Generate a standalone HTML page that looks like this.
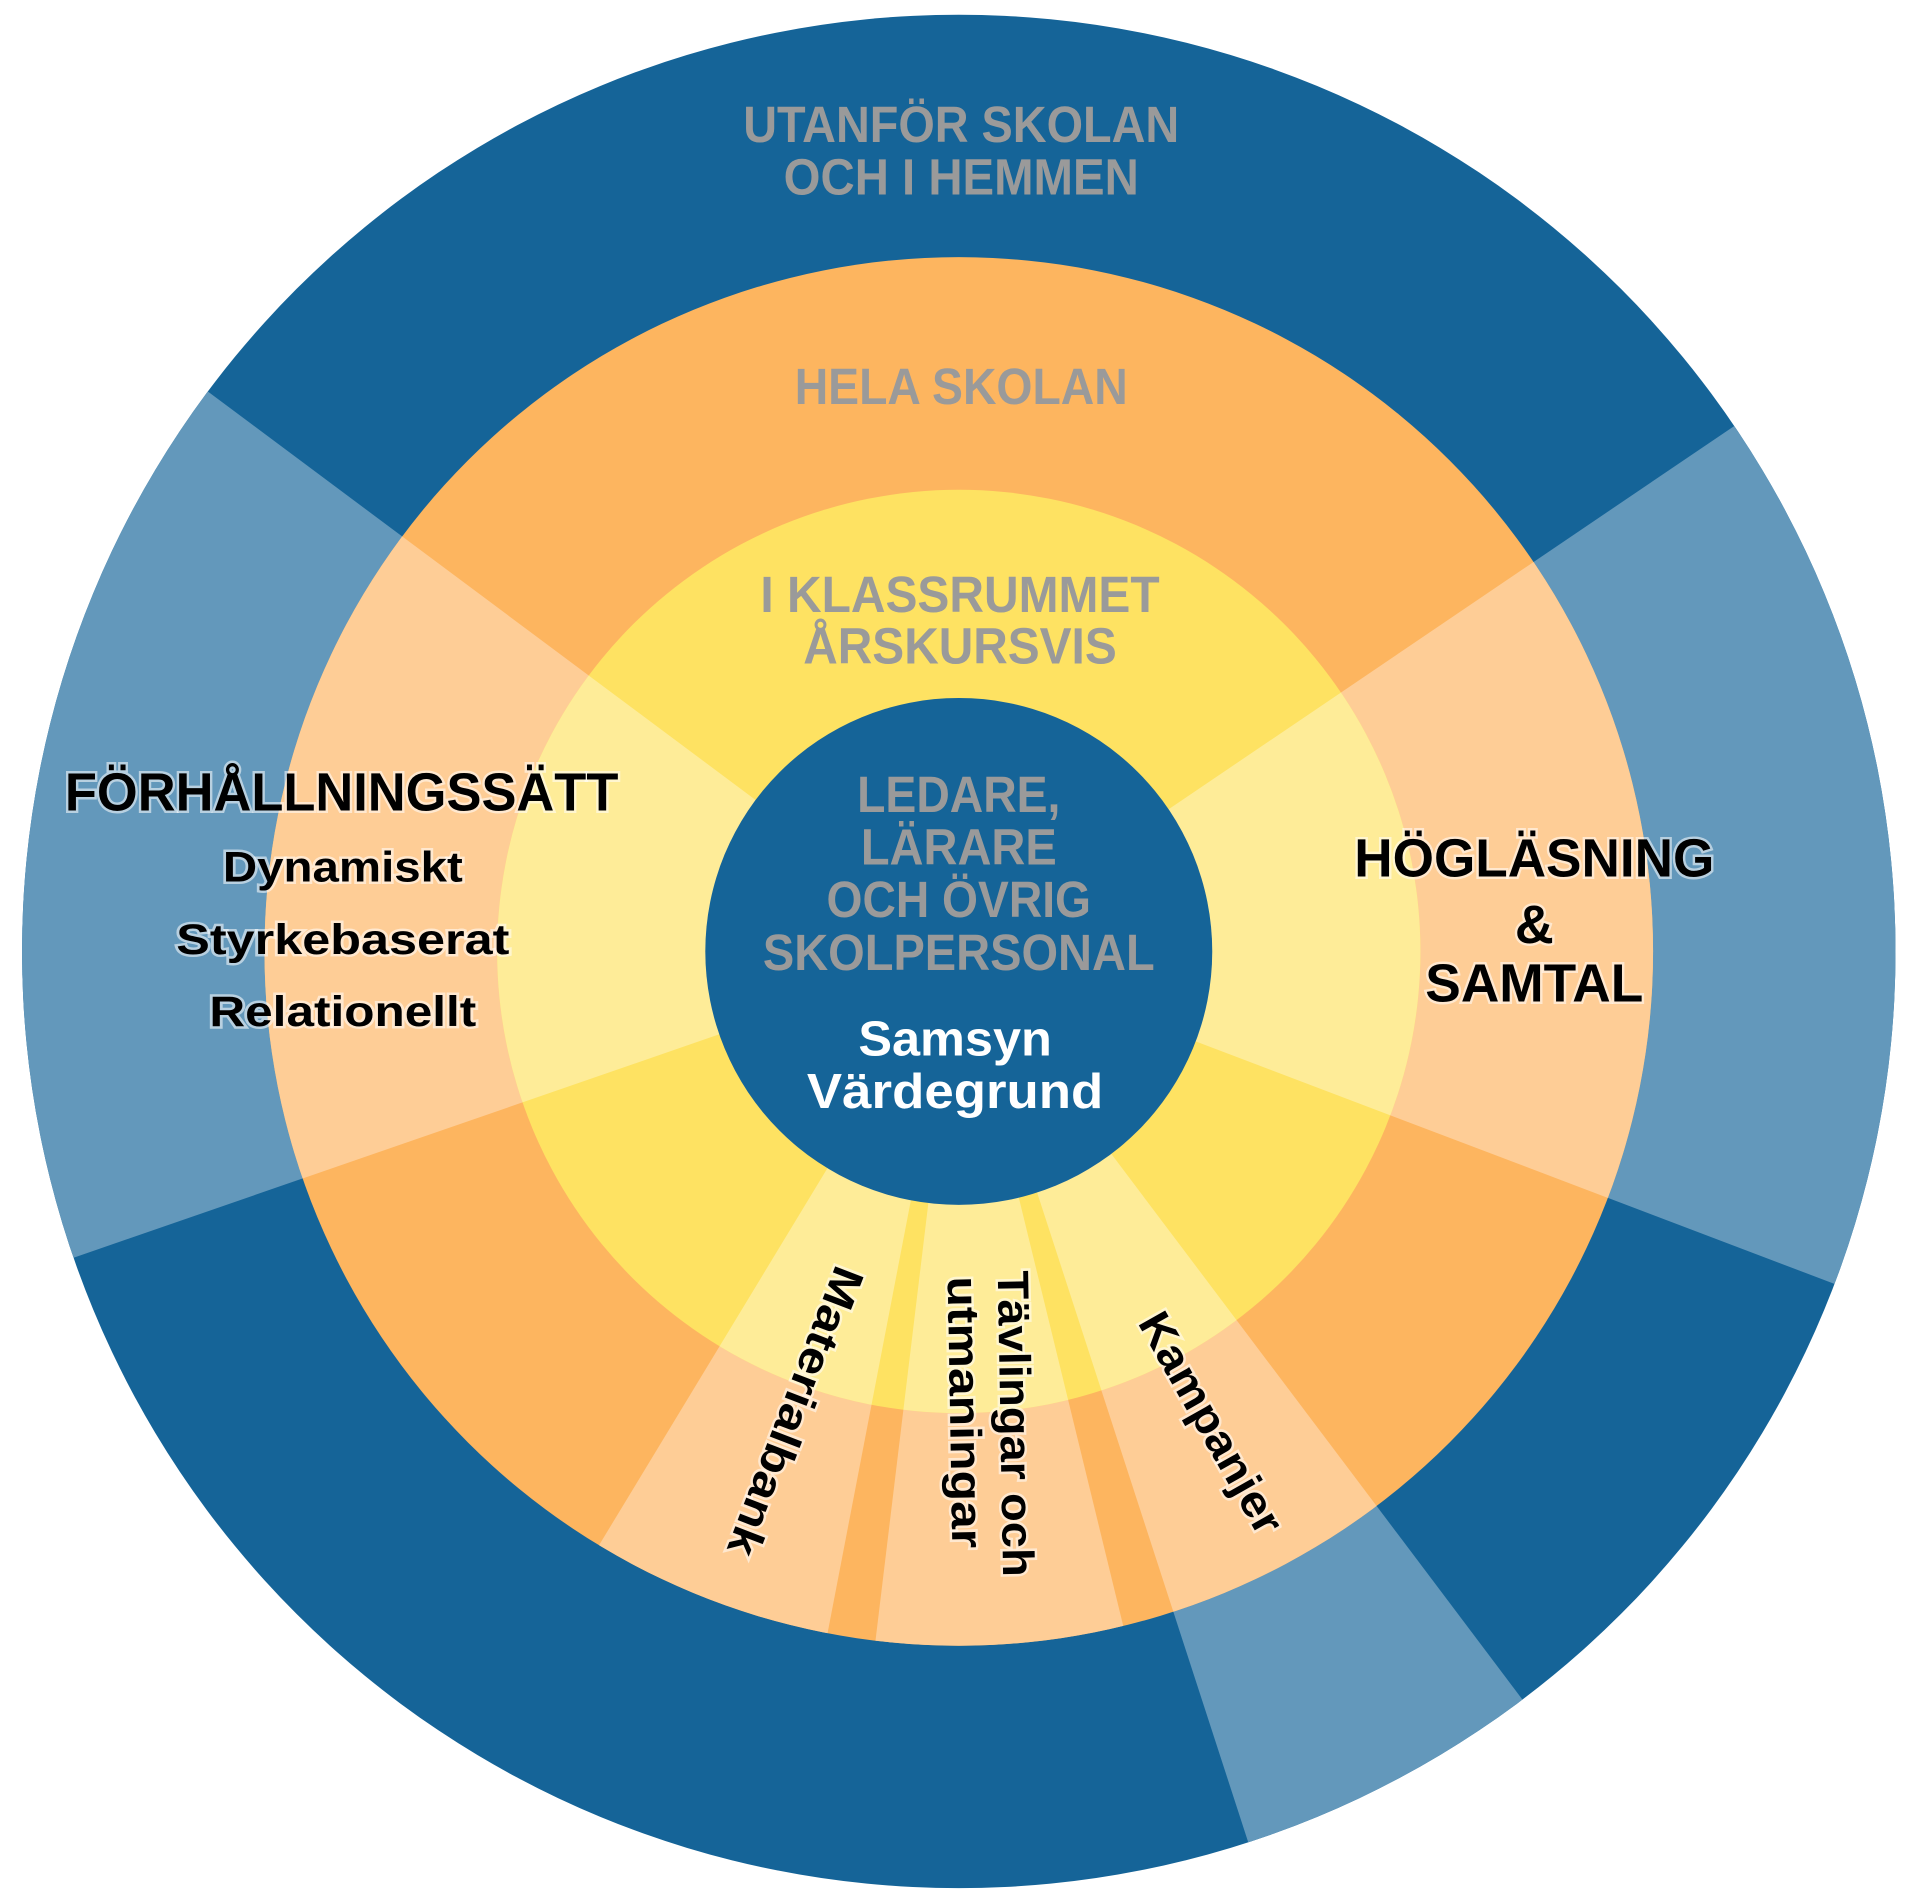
<!DOCTYPE html>
<html><head><meta charset="utf-8"><style>
html,body{margin:0;padding:0;background:#fff;width:1920px;height:1902px;overflow:hidden;}
svg{display:block;}
.g{font-family:"Liberation Sans",sans-serif;font-weight:bold;fill:#9a9a9a;text-anchor:middle;}
.b{font-family:"Liberation Sans",sans-serif;font-weight:bold;fill:#000;text-anchor:middle;stroke:#fff;stroke-opacity:.55;stroke-width:4;paint-order:stroke;}
.w{font-family:"Liberation Sans",sans-serif;font-weight:bold;fill:#fff;text-anchor:middle;}
</style></head><body>
<svg width="1920" height="1902" viewBox="0 0 1568 1553.3" preserveAspectRatio="none" xmlns="http://www.w3.org/2000/svg">
<defs>
<clipPath id="c1"><circle cx="783" cy="777" r="765"/></clipPath>
<clipPath id="c2"><circle cx="783" cy="777" r="567"/></clipPath>
<clipPath id="c3"><circle cx="783" cy="777" r="377"/></clipPath>
</defs>
<circle cx="783" cy="777" r="765" fill="#156498"/>
<g clip-path="url(#c1)" fill="#6398bb">
<polygon points="783,777 -162,1104 -19,179"/>
<polygon points="783,777 1611,216 1718,1132"/>
<polygon points="783,777 1385,1576 1092,1728"/>
</g>
<circle cx="783" cy="777" r="567" fill="#fdb55f"/>
<g clip-path="url(#c2)" fill="#fecd96">
<polygon points="783,777 -162,1104 -19,179"/>
<polygon points="783,777 1611,216 1718,1132"/>
<polygon points="783,777 1385,1576 1092,1728"/>
<polygon points="783,777 1020,1749 663,1770"/>
<polygon points="783,777 594,1759 265,1632"/>
</g>
<circle cx="783" cy="777" r="377" fill="#fee262"/>
<g clip-path="url(#c3)" fill="#feec98">
<polygon points="783,777 -162,1104 -19,179"/>
<polygon points="783,777 1611,216 1718,1132"/>
<polygon points="783,777 1385,1576 1092,1728"/>
<polygon points="783,777 1020,1749 663,1770"/>
<polygon points="783,777 594,1759 265,1632"/>
</g>
<circle cx="783" cy="777" r="207" fill="#156498"/>

<text class="g" x="785" y="116" font-size="42" textLength="356" lengthAdjust="spacingAndGlyphs">UTANFÖR SKOLAN</text>
<text class="g" x="785" y="159" font-size="42" textLength="290" lengthAdjust="spacingAndGlyphs">OCH I HEMMEN</text>
<text class="g" x="785" y="330" font-size="42" textLength="272" lengthAdjust="spacingAndGlyphs">HELA SKOLAN</text>
<text class="g" x="784" y="500" font-size="42" textLength="326" lengthAdjust="spacingAndGlyphs">I KLASSRUMMET</text>
<text class="g" x="784" y="542" font-size="42" textLength="256" lengthAdjust="spacingAndGlyphs">ÅRSKURSVIS</text>

<text class="g" x="783" y="663" font-size="42" textLength="166" lengthAdjust="spacingAndGlyphs">LEDARE,</text>
<text class="g" x="783" y="706" font-size="42" textLength="160" lengthAdjust="spacingAndGlyphs">LÄRARE</text>
<text class="g" x="783" y="749" font-size="42" textLength="216" lengthAdjust="spacingAndGlyphs">OCH ÖVRIG</text>
<text class="g" x="783" y="792" font-size="42" textLength="320" lengthAdjust="spacingAndGlyphs">SKOLPERSONAL</text>
<text class="w" x="780" y="862" font-size="40" textLength="158" lengthAdjust="spacingAndGlyphs">Samsyn</text>
<text class="w" x="780" y="905" font-size="40" textLength="242" lengthAdjust="spacingAndGlyphs">Värdegrund</text>

<text class="b" x="279" y="662" font-size="44" textLength="452" lengthAdjust="spacingAndGlyphs">FÖRHÅLLNINGSSÄTT</text>
<text class="b" x="280" y="720" font-size="35" textLength="196" lengthAdjust="spacingAndGlyphs">Dynamiskt</text>
<text class="b" x="280" y="779" font-size="35" textLength="272" lengthAdjust="spacingAndGlyphs">Styrkebaserat</text>
<text class="b" x="280" y="838" font-size="35" textLength="218" lengthAdjust="spacingAndGlyphs">Relationellt</text>

<text class="b" x="1253" y="716" font-size="44" textLength="294" lengthAdjust="spacingAndGlyphs">HÖGLÄSNING</text>
<text class="b" x="1253" y="770" font-size="44">&amp;</text>
<text class="b" x="1253" y="818" font-size="44" textLength="178" lengthAdjust="spacingAndGlyphs">SAMTAL</text>

<g transform="translate(627,1144) rotate(111)"><text class="b" x="0" y="-12" font-size="36" textLength="250" lengthAdjust="spacingAndGlyphs">Materialbank</text></g>
<g transform="translate(810,1163) rotate(89)"><text class="b" x="0" y="-7" font-size="36" textLength="250" lengthAdjust="spacingAndGlyphs">Tävlingar och</text><text class="b" x="-10" y="34" font-size="36" textLength="222" lengthAdjust="spacingAndGlyphs">utmaningar</text></g>
<g transform="translate(968,1174) rotate(60.5)"><text class="b" x="0" y="-12" font-size="36" textLength="202" lengthAdjust="spacingAndGlyphs">Kampanjer</text></g>
</svg>
</body></html>
